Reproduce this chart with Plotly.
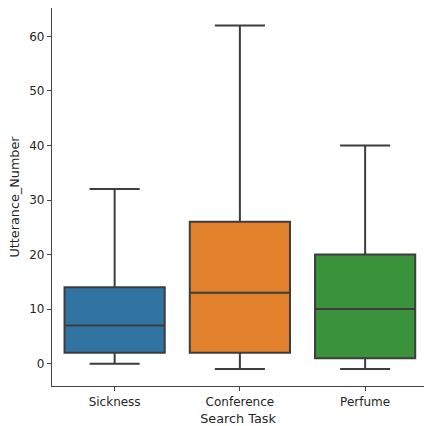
import plotly.graph_objects as go

categories = ["Sickness", "Conference", "Perfume"]
lower_whisker = [0, -1, -1]
q1_values = [2, 2, 1]
medians = [7, 13, 10]
q3_values = [14, 26, 20]
upper_whisker = [32, 62, 40]
colors = ["#3274a1", "#e1812c", "#3a923a"]
y_ticks = [0, 10, 20, 30, 40, 50, 60]

fig = go.Figure()
for i, cat in enumerate(categories):
    fig.add_trace(go.Box(
        x=[cat],
        q1=[q1_values[i]],
        median=[medians[i]],
        q3=[q3_values[i]],
        lowerfence=[lower_whisker[i]],
        upperfence=[upper_whisker[i]],
        fillcolor=colors[i],
        line=dict(color="#3d3d3d", width=2),
        whiskerwidth=0.5,
        width=0.8,
        boxpoints=False,
        showlegend=False,
        hoverinfo="skip",
    ))

fig.update_layout(
    width=424, height=426,
    margin=dict(l=52, r=0, t=8, b=40),
    paper_bgcolor="white", plot_bgcolor="white",
    boxgap=0.2, boxgroupgap=0,
    font=dict(family="DejaVu Sans", size=12, color="#262626"),
    xaxis=dict(
        type="category", range=[-0.5, 2.47], automargin=False,
        showline=True, linecolor="#444444", linewidth=1.2,
        ticks="outside", ticklen=4, tickcolor="#444444",
        showgrid=False, zeroline=False,
        title=dict(text="Search Task", standoff=6, font=dict(size=12.8)),
    ),
    yaxis=dict(
        range=[-4.1, 65.2], tickvals=y_ticks, automargin=False,
        showline=True, linecolor="#444444", linewidth=1.2,
        ticks="outside", ticklen=4, tickcolor="#444444",
        showgrid=False, zeroline=False,
        title=dict(text="Utterance_Number", standoff=6, font=dict(size=12.8)),
    ),
)

fig.write_html(
    "out.html",
    config={"displayModeBar": False},
    post_script="document.body.style.margin='0';document.body.style.padding='0';",
)
